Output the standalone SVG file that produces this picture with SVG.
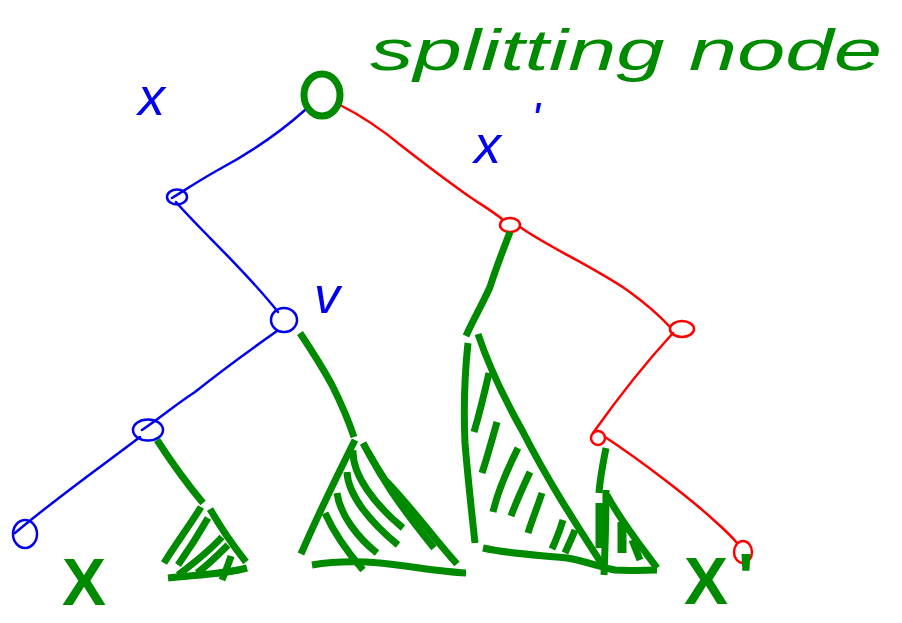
<svg xmlns="http://www.w3.org/2000/svg" width="902" height="623" viewBox="0 0 902 623">
<style>
.bl{fill:none;stroke:#0000ee;stroke-width:2.5;stroke-linecap:round;stroke-linejoin:round}
.rd{fill:none;stroke:#ff0000;stroke-width:2.5;stroke-linecap:round;stroke-linejoin:round}
.gr{fill:none;stroke:#008a00;stroke-width:7;stroke-linecap:butt;stroke-linejoin:round}
.lbl{font-family:"Liberation Sans",Arial,sans-serif;font-style:italic}
.bt{fill:#0000ee}
.gt{fill:#008a00}
</style>
<rect width="902" height="623" fill="#ffffff"/>
<g id="connectors">
<path class="bl" d="M305,110 C285,128 255,150 218,170 C200,180 185,190 172,198"/>
<path class="bl" d="M176,202 C200,230 245,270 278,312"/>
<path class="bl" d="M277,331 C250,350 220,372 195,392 C175,405 160,418 142,430"/>
<path class="bl" d="M140,437 C110,460 60,495 15,533"/>
<path class="rd" d="M340,105 C360,115 385,132 403,147 C430,168 450,183 470,197 C485,207 495,213 502,219"/>
<path class="rd" d="M520,227 C550,248 590,265 627,290 C645,303 660,316 670,327"/>
<path class="rd" d="M673,333 C650,358 620,395 593,433"/>
<path class="rd" d="M605,437 C640,460 690,498 717,523 C727,532 733,538 737,543"/>
</g>
<g id="root"><ellipse cx="322" cy="95" rx="18" ry="21" fill="none" stroke="#008a00" stroke-width="7"/></g>
<g id="n1"><ellipse cx="177" cy="197" rx="10" ry="7.5" class="bl"/></g>
<g id="v"><ellipse cx="284" cy="320" rx="13" ry="12" class="bl"/></g>
<g id="n3"><ellipse cx="148" cy="430" rx="15" ry="10.5" class="bl"/></g>
<g id="leaf"><ellipse cx="25" cy="534" rx="12" ry="14" class="bl"/></g>
<g id="rA"><ellipse cx="510" cy="225" rx="10" ry="7" class="rd"/></g>
<g id="rB"><ellipse cx="682" cy="329" rx="12" ry="8" class="rd"/></g>
<g id="rC"><ellipse cx="598" cy="438" rx="7" ry="7" class="rd"/></g>
<g id="rD"><ellipse cx="743" cy="552" rx="9" ry="11" class="rd"/></g>
<g id="subtree-n3">
<path class="gr" d="M157,440 C170,460 188,485 203,503"/>
<path class="gr" d="M201,507 C190,525 175,545 164,563"/>
<path class="gr" d="M210,509 C222,530 235,548 246,562"/>
<path class="gr" d="M168,578 C195,575 225,574 247,568"/>
<path class="gr" d="M178,565 C190,548 200,532 208,518"/>
<path class="gr" d="M178,575 C198,560 212,548 222,537"/>
<path class="gr" d="M197,573 C208,565 218,555 228,545"/>
<path class="gr" d="M222,580 C226,570 229,563 231,556"/>
</g>
<g id="subtree-v">
<path class="gr" d="M300,333 C310,348 320,363 332,385 C342,405 349,422 354,437"/>
<path class="gr" d="M355,440 C340,470 320,510 301,554"/>
<path class="gr" d="M363,443 C372,460 380,472 385,480 C410,505 435,540 457,564"/>
<path class="gr" d="M368,452 C380,475 395,500 434,548"/>
<path class="gr" d="M312,565 C330,562 355,561 380,563 C410,566 440,572 466,573"/>
<path class="gr" d="M353,450 C352,475 375,505 403,528"/>
<path class="gr" d="M347,472 C348,495 370,522 398,545"/>
<path class="gr" d="M337,493 C340,515 358,538 377,553"/>
<path class="gr" d="M325,513 C335,535 350,555 363,570"/>
</g>
<g id="subtree-rA">
<path class="gr" d="M510,232 C503,250 496,268 490,287 C482,305 473,320 466,336"/>
<path class="gr" d="M468,343 C464,380 464,420 465,443 C468,480 472,515 475,543"/>
<path class="gr" d="M478,334 C490,370 505,400 523,432 C550,485 580,530 607,572"/>
<path class="gr" d="M483,548 C510,554 540,555 567,558 C585,561 600,567 615,570 C630,571 645,570 657,570"/>
<path class="gr" d="M489,373 C484,395 479,415 474,432"/>
<path class="gr" d="M497,422 C492,440 487,458 482,473"/>
<path class="gr" d="M518,448 C508,468 498,490 493,512"/>
<path class="gr" d="M530,472 C523,487 516,502 511,516"/>
<path class="gr" d="M542,493 C537,508 532,520 528,533"/>
<path class="gr" d="M563,520 C560,530 556,540 552,549"/>
<path class="gr" d="M575,530 C572,538 568,546 565,553"/>
</g>
<g id="subtree-rC">
<path class="gr" d="M606,448 C603,463 600,478 599,493"/>
<path class="gr" d="M606,490 C606,520 605,550 604,575"/>
<path class="gr" d="M607,495 C620,520 640,545 657,568"/>
<path class="gr" d="M600,503 L600,548" style="stroke-width:9"/>
<path class="gr" d="M622,522 L622,553" style="stroke-width:9"/>
<path class="gr" d="M632,540 L640,560"/>
</g>
<g id="labels">
<text class="lbl gt" x="370" y="70" font-size="58" textLength="512" lengthAdjust="spacingAndGlyphs">splitting node</text>
<text class="lbl bt" x="138" y="115" font-size="54">x</text>
<text class="lbl bt" x="474" y="163" font-size="54">x<tspan dx="30" dy="-28" font-size="46">'</tspan></text>
<text class="lbl bt" x="314" y="313" font-size="52">v</text>
<text class="gt" x="62" y="605" font-size="66" font-family="Liberation Sans, Arial, sans-serif" font-weight="bold">X</text>
<text class="gt" x="684" y="604" font-size="66" font-family="Liberation Sans, Arial, sans-serif" font-weight="bold">X<tspan dx="10" dy="-4">'</tspan></text>
</g>
</svg>
